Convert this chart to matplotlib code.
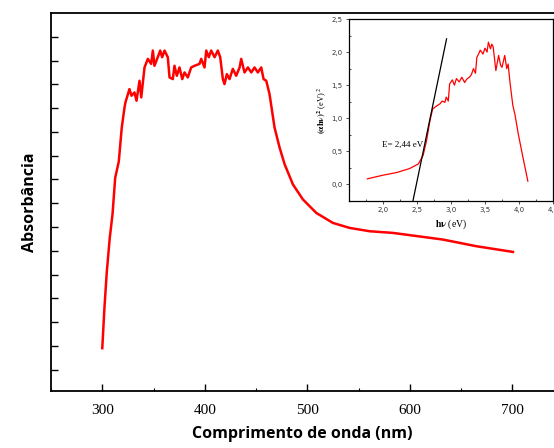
import matplotlib
matplotlib.use("Agg")
import matplotlib.pyplot as plt
from matplotlib.ticker import MultipleLocator

# main spectrum: wavelength (nm) vs absorbance (arb. units)
wl = [300.0, 302.1, 304.4, 307.3, 310.0, 312.6, 316.1, 319.0, 321.7, 322.6,
      326.5, 328.5, 331.4, 333.4, 336.3, 338.0, 341.2, 344.4, 347.7, 349.3,
      350.9, 354.1, 356.5, 358.4, 360.7, 363.9, 365.6, 368.8, 370.4, 372.7,
      375.3, 378.0, 380.2, 383.4, 386.7, 390.0, 394.8, 396.5, 399.7, 401.4,
      403.9, 406.2, 409.5, 412.7, 415.0, 417.6, 419.2, 421.5, 424.1, 427.3,
      430.6, 433.9, 435.5, 438.7, 442.0, 445.3, 448.5, 451.7, 455.0, 457.3,
      459.9, 463.1, 468.0, 472.9, 477.8, 485.9, 495.6, 508.7, 524.9, 541.2,
      560.7, 583.4, 632.2, 664.8, 700.5]
absorb = [0.090, 0.259, 0.411, 0.554, 0.654, 0.807, 0.875, 1.018, 1.103, 1.124,
          1.180, 1.152, 1.166, 1.131, 1.215, 1.145, 1.271, 1.307, 1.286, 1.342,
          1.278, 1.314, 1.342, 1.314, 1.342, 1.314, 1.229, 1.222, 1.278, 1.236,
          1.271, 1.222, 1.250, 1.229, 1.271, 1.278, 1.286, 1.307, 1.271, 1.342,
          1.314, 1.342, 1.314, 1.342, 1.314, 1.222, 1.201, 1.243, 1.222, 1.265,
          1.236, 1.271, 1.307, 1.250, 1.271, 1.250, 1.271, 1.250, 1.271, 1.222,
          1.215, 1.159, 1.018, 0.934, 0.864, 0.779, 0.716, 0.659, 0.617, 0.596,
          0.582, 0.575, 0.547, 0.519, 0.495]

# inset: Tauc plot
ev = [1.77, 2.00, 2.20, 2.39, 2.52, 2.59, 2.64, 2.69, 2.73, 2.78,
      2.84, 2.87, 2.91, 2.93, 2.96, 2.98, 3.02, 3.05, 3.08, 3.12,
      3.16, 3.20, 3.23, 3.27, 3.30, 3.33, 3.36, 3.38, 3.41, 3.43,
      3.47, 3.50, 3.53, 3.55, 3.58, 3.60, 3.62, 3.66, 3.70, 3.73,
      3.75, 3.79, 3.82, 3.84, 3.87, 3.91, 3.94, 3.99, 4.06, 4.13]
tauc = [0.085, 0.14, 0.18, 0.24, 0.31, 0.44, 0.66, 0.96, 1.14, 1.18,
        1.22, 1.26, 1.24, 1.32, 1.26, 1.52, 1.58, 1.50, 1.60, 1.55,
        1.62, 1.54, 1.59, 1.62, 1.66, 1.75, 1.68, 1.92, 1.98, 2.03,
        1.97, 2.06, 2.00, 2.15, 2.05, 2.12, 2.08, 1.72, 1.95, 1.80,
        1.77, 1.95, 1.75, 1.82, 1.52, 1.19, 1.06, 0.76, 0.40, 0.05]

fit_x = [2.44, 2.935]
fit_y = [-0.25, 2.20]

plt.rcParams["mathtext.fontset"] = "stix"

fig = plt.figure(figsize=(5.54, 4.48), dpi=100)
ax = fig.add_axes([51 / 554, 1 - 391 / 448, 1 - 51 / 554, (391 - 13) / 448])
ax.plot(wl, absorb, color="#ff0000", lw=1.8)
ax.set_xlim(250, 740.5)
ax.set_ylim(-0.09, 1.5)
ax.set_xticks([300, 400, 500, 600, 700])
ax.xaxis.set_minor_locator(MultipleLocator(50))
ax.set_yticks([i / 10 for i in range(15)])
ax.set_yticklabels([])
ax.tick_params(axis="both", which="major", direction="in", length=5, width=1)
ax.tick_params(axis="x", which="minor", direction="in", length=2, width=0.8)
ax.tick_params(axis="x", labelsize=11, pad=9)
for lbl in ax.get_xticklabels():
    lbl.set_family("Liberation Serif")
ax.spines["right"].set_visible(False)
for s in ["left", "bottom", "top"]:
    ax.spines[s].set_linewidth(1.3)
ax.set_xlabel("Comprimento de onda (nm)", family="Open Sans", fontweight="bold",
              fontsize=11.5, labelpad=7)
ax.set_ylabel("Absorbância", family="Open Sans", fontweight="bold",
              fontsize=11.5, labelpad=6)

ins = fig.add_axes([349 / 554, 1 - 201 / 448, (553 - 349) / 554, (201 - 19) / 448])
ins.plot(ev, tauc, color="#ff0000", lw=0.9)
ins.plot(fit_x, fit_y, color="black", lw=0.9)
ins.set_xlim(1.5, 4.5)
ins.set_ylim(-0.25, 2.5)
ins.set_xticks([2.0, 2.5, 3.0, 3.5, 4.0, 4.5])
ins.set_xticklabels(["2,0", "2,5", "3,0", "3,5", "4,0", "4,5"])
ins.set_yticks([0.0, 0.5, 1.0, 1.5, 2.0, 2.5])
ins.set_yticklabels(["0,0", "0,5", "1,0", "1,5", "2,0", "2,5"])
ins.xaxis.set_minor_locator(MultipleLocator(0.25))
ins.yaxis.set_minor_locator(MultipleLocator(0.25))
ins.tick_params(which="major", direction="out", length=2.5, width=0.6,
                labelsize=5, colors="#333333", pad=2)
ins.tick_params(which="minor", direction="in", length=1.5, width=0.5)
for s in ins.spines.values():
    s.set_linewidth(0.9)
ins.text(1.98, 0.6, "E= 2,44 eV", family="Liberation Serif", fontsize=6.5,
         va="center")
ins.set_xlabel(r"$\mathbf{h\nu}$ (eV)", family="Liberation Serif", fontsize=7,
               labelpad=3)
ins.set_ylabel(r"$\mathbf{(\alpha h\nu)^2}$ (eV)$^{\ 2}$", family="Liberation Serif",
               fontsize=6, labelpad=2)

fig.savefig("out.png", dpi=100)
